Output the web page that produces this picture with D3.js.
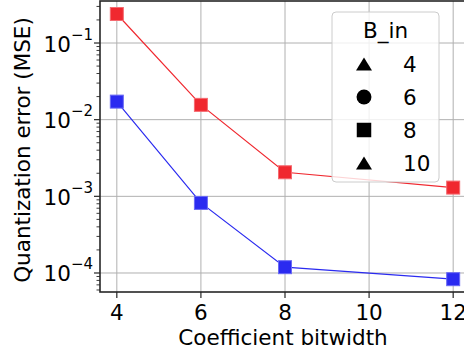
<!DOCTYPE html>
<html>
<head>
<meta charset="utf-8">
<script src="https://cdn.jsdelivr.net/npm/d3@7"></script>
<style>
  body { margin: 0; background: #fff; }
  text { font-family: "DejaVu Sans", sans-serif; fill: #000; }
</style>
</head>
<body>
<svg id="chart" width="464" height="355"></svg>
<script>
// data
const bitwidths = [4, 6, 8, 12];
const mseRed = [0.239, 0.0156, 0.00206, 0.0013];
const mseBlue = [0.0172, 0.00082, 0.000119, 0.000083];
const xTicks = [4, 6, 8, 10, 12];
const yTicks = [-4, -3, -2, -1];
const legendTitle = "B_in";
const legendLabels = ["4", "6", "8", "10"];
const legendShapes = ["triangle", "circle", "square", "triangle"];

const svg = d3.select("#chart");
const pLeft = 100, pTop = 1, pBottom = 292, pRight = 470;
const fs = "21.5px";

const x = d3.scaleLinear().domain([3.6, 12.4]).range([pLeft, pRight]);
const y = d3.scaleLog().domain([Math.pow(10, -4.248), Math.pow(10, -0.452)]).range([pBottom, pTop]);

const clip = svg.append("defs").append("clipPath").attr("id", "clip");
clip.append("rect").attr("x", pLeft).attr("y", pTop).attr("width", pRight - pLeft).attr("height", pBottom - pTop);

// grid
const grid = svg.append("g").attr("stroke", "#b0b0b0").attr("stroke-width", 1);
xTicks.forEach(function (t) {
    grid.append("line").attr("x1", x(t)).attr("x2", x(t)).attr("y1", pTop).attr("y2", pBottom);
});
yTicks.forEach(function (e) {
    grid.append("line").attr("x1", pLeft).attr("x2", pRight).attr("y1", y(Math.pow(10, e))).attr("y2", y(Math.pow(10, e)));
});

// series
const series = [
    {values: mseRed, color: "#f0282f", edge: "#f56a70"},
    {values: mseBlue, color: "#2a2af0", edge: "#6a6af5"}
];
const line = d3.line().x(function (d) { return x(d[0]); }).y(function (d) { return y(d[1]); });
const plot = svg.append("g").attr("clip-path", "url(#clip)");
series.forEach(function (s) {
    const pts = bitwidths.map(function (b, i) { return [b, s.values[i]]; });
    plot.append("path").attr("d", line(pts)).attr("fill", "none")
        .attr("stroke", s.color).attr("stroke-width", 1.2);
    plot.selectAll(null).data(pts).enter().append("rect")
        .attr("x", function (d) { return x(d[0]) - 6.5; })
        .attr("y", function (d) { return y(d[1]) - 6.5; })
        .attr("width", 13).attr("height", 13)
        .attr("fill", s.color).attr("stroke", s.edge).attr("stroke-width", 1);
});

// spines
svg.append("rect").attr("x", pLeft).attr("y", pTop).attr("width", pRight - pLeft).attr("height", pBottom - pTop)
    .attr("fill", "none").attr("stroke", "#262626").attr("stroke-width", 1.6);

// x axis
const xAx = svg.append("g");
xTicks.forEach(function (t) {
    xAx.append("line").attr("x1", x(t)).attr("x2", x(t)).attr("y1", pBottom).attr("y2", pBottom + 6)
        .attr("stroke", "#262626").attr("stroke-width", 1.2);
    xAx.append("text").attr("x", x(t)).attr("y", pBottom + 28).attr("text-anchor", "middle")
        .style("font-size", fs).text(t);
});
svg.append("text").attr("x", 283).attr("y", 345).attr("text-anchor", "middle")
    .style("font-size", fs).text("Coefficient bitwidth");

// y axis: major + minor ticks
const yAx = svg.append("g");
for (let e = -5; e <= 0; e++) {
    for (let k = 2; k <= 9; k++) {
        const v = k * Math.pow(10, e);
        if (v < y.domain()[0] || v > y.domain()[1]) continue;
        yAx.append("line").attr("x1", pLeft - 3.5).attr("x2", pLeft).attr("y1", y(v)).attr("y2", y(v))
            .attr("stroke", "#262626").attr("stroke-width", 0.9);
    }
}
yTicks.forEach(function (e) {
    const yy = y(Math.pow(10, e));
    yAx.append("line").attr("x1", pLeft - 6).attr("x2", pLeft).attr("y1", yy).attr("y2", yy)
        .attr("stroke", "#262626").attr("stroke-width", 1.2);
    const t = yAx.append("text").attr("x", 93).attr("y", yy + 8.5).attr("text-anchor", "end")
        .style("font-size", fs);
    t.append("tspan").text("10");
    t.append("tspan").attr("dy", -12).style("font-size", "15px").text("\u2212" + (-e));
});
svg.append("text").attr("transform", "translate(30,150) rotate(-90)").attr("text-anchor", "middle")
    .style("font-size", fs).text("Quantization error (MSE)");

// legend
const lg = svg.append("g");
lg.append("rect").attr("x", 332).attr("y", 12).attr("width", 107).attr("height", 170).attr("rx", 4)
    .attr("fill", "#fff").attr("fill-opacity", 0.8).attr("stroke", "#cccccc").attr("stroke-width", 1);
lg.append("text").attr("x", 385.5).attr("y", 38).attr("text-anchor", "middle")
    .style("font-size", fs).text(legendTitle);
const tri = "M0,-6.5L8,6.5L-8,6.5Z";
legendLabels.forEach(function (lab, i) {
    const cy = 64 + i * 33;
    const shp = legendShapes[i];
    let d;
    if (shp === "triangle") d = tri;
    else if (shp === "circle") d = d3.symbol().type(d3.symbolCircle).size(175)();
    else d = d3.symbol().type(d3.symbolSquare).size(210)();
    lg.append("path").attr("d", d)
        .attr("transform", "translate(364," + cy + ")").attr("fill", "#000");
    lg.append("text").attr("x", 403).attr("y", cy + 8).style("font-size", fs).text(lab);
});
</script>
</body>
</html>
